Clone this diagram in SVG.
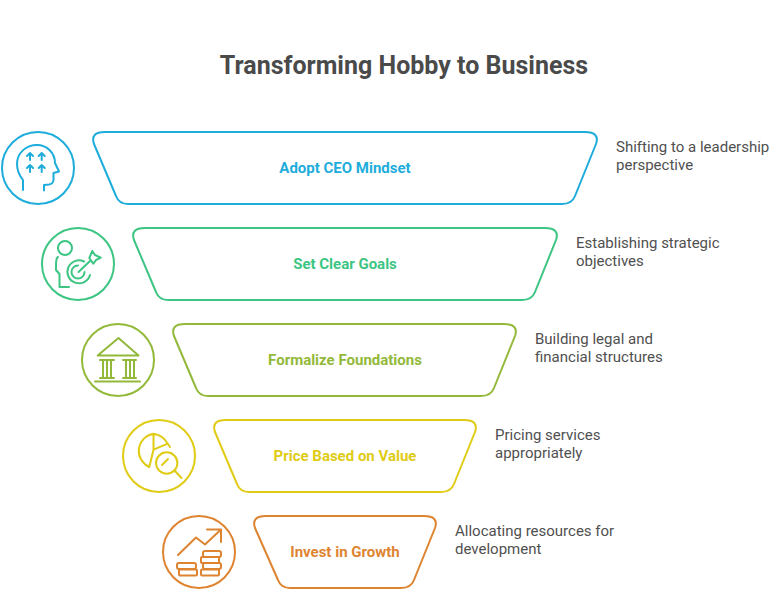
<svg xmlns="http://www.w3.org/2000/svg" width="778" height="595" viewBox="0 0 778 595">
<style>
text{font-family:Roboto,"Liberation Sans",sans-serif}
.title{font-size:25px;font-weight:700;fill:#4a4a4a;text-anchor:middle}
.lab{font-size:15px;font-weight:700;text-anchor:middle}
.desc{font-size:15px;fill:#505050}
.s{fill:none;stroke-width:2;stroke-linecap:round;stroke-linejoin:round}
.b{stroke:#1eaddb}.g{stroke:#3cc583}.o{stroke:#93b93b}.y{stroke:#e0cb15}.r{stroke:#de8431}
</style>
<rect width="778" height="595" fill="#fff"/>
<text class="title" x="404" y="74">Transforming Hobby to Business</text>
<g id="node1">
<path class="s b" d="M105 132H585Q600 132 596 144L575 196Q572 204 562 204H128Q119 204 116 196L94 144Q90 132 105 132Z"/>
<circle class="s b" cx="38" cy="168" r="36"/>
<path class="s b" d="M23 190V180C19 175 17 170 17 164C17 153 26 145 37 145C47 145 55 153 55 163L59 171.500L53.500 173V180Q53 184 49 184.500L44 185V190.500"/>
<path class="s b" d="M30 160V153M27 156L30 153L33 156M41.700 160V153M38.700 156L41.700 153L44.700 156M30 172V165M27 168L30 165L33 168M41.700 172V165M38.700 168L41.700 165L44.700 168"/>
<text class="lab" x="345" y="173" fill="#1eaddb">Adopt CEO Mindset</text>
<text class="desc" x="616" y="152">Shifting to a leadership</text>
<text class="desc" x="616" y="170">perspective</text>
</g>
<g id="node2">
<path class="s g" d="M145 228H545Q560 228 556 240L535 292Q532 300 522 300H168Q159 300 156 292L134 240Q130 228 145 228Z"/>
<circle class="s g" cx="78" cy="264" r="36"/>
<circle class="s g" cx="65" cy="248" r="7"/>
<path class="s g" d="M58 257Q56 258 56 265V270L59.500 274V287H69"/>
<path class="s g" d="M84 261.500A11.500 11.500 0 1 0 90 275M78 265.500A6.500 6.500 0 1 0 84.500 272"/>
<path class="s g" d="M78.500 272L90 261"/>
<path class="s g" d="M89.300 258L92.300 251L95 255L100.700 257.700L96 260L93.300 263.700Z"/>
<text class="lab" x="345" y="269" fill="#3cc583">Set Clear Goals</text>
<text class="desc" x="576" y="248">Establishing strategic</text>
<text class="desc" x="576" y="266">objectives</text>
</g>
<g id="node3">
<path class="s o" d="M185 324H504Q519 324 515 336L494 388Q491 396 481 396H208Q199 396 196 388L174 336Q170 324 185 324Z"/>
<circle class="s o" cx="118" cy="360" r="36"/>
<path class="s o" d="M97.700 355.500L118.500 338L138.500 355.500Z"/>
<path class="s o" d="M100 360H114M100 378H114M103 360V378M107 360V378M111 360V378M123 360H136M123 378H136M126 360V378M130 360V378M134 360V378M95 381.500H140"/>
<text class="lab" x="345" y="365" fill="#93b93b">Formalize Foundations</text>
<text class="desc" x="535" y="344">Building legal and</text>
<text class="desc" x="535" y="362">financial structures</text>
</g>
<g id="node4">
<path class="s y" d="M226 420H464Q479 420 475 432L454 484Q451 492 441 492H249Q240 492 237 484L215 432Q211 420 226 420Z"/>
<circle class="s y" cx="159" cy="456" r="36"/>
<path class="s y" d="M153.500 433.700A17.500 17.500 0 0 0 149.300 467L153.500 449.700ZM153.500 433.700V449.700L167.700 443.700Q163 435 153.500 433.700ZM167.700 443.700L170 447"/>
<circle class="s y" cx="166.700" cy="463" r="10.700"/>
<path class="s y" d="M174.500 470.500L181.500 478M162 465L168 459"/>
<text class="lab" x="345" y="461" fill="#e0cb15">Price Based on Value</text>
<text class="desc" x="495" y="440">Pricing services</text>
<text class="desc" x="495" y="458">appropriately</text>
</g>
<g id="node5">
<path class="s r" d="M266 516H424Q439 516 435 528L414 580Q411 588 401 588H290Q281 588 278 580L255 528Q251 516 266 516Z"/>
<circle class="s r" cx="199" cy="552" r="36"/>
<path class="s r" d="M178 555L196 537.500L205 544.500L221 529.500M207 529.500H221V542"/>
<rect class="s r" x="177" y="563" width="19" height="6" rx="2"/>
<rect class="s r" x="179" y="569.500" width="18" height="6" rx="1"/>
<rect class="s r" x="203" y="551" width="18" height="6" rx="2"/>
<rect class="s r" x="201" y="557" width="18" height="6" rx="1"/>
<rect class="s r" x="203" y="563" width="18" height="6" rx="2"/>
<rect class="s r" x="201" y="569.500" width="18" height="6" rx="1"/>
<text class="lab" x="345" y="557" fill="#de8431">Invest in Growth</text>
<text class="desc" x="455" y="536">Allocating resources for</text>
<text class="desc" x="455" y="554">development</text>
</g>
<g id="connectors"/>
</svg>
